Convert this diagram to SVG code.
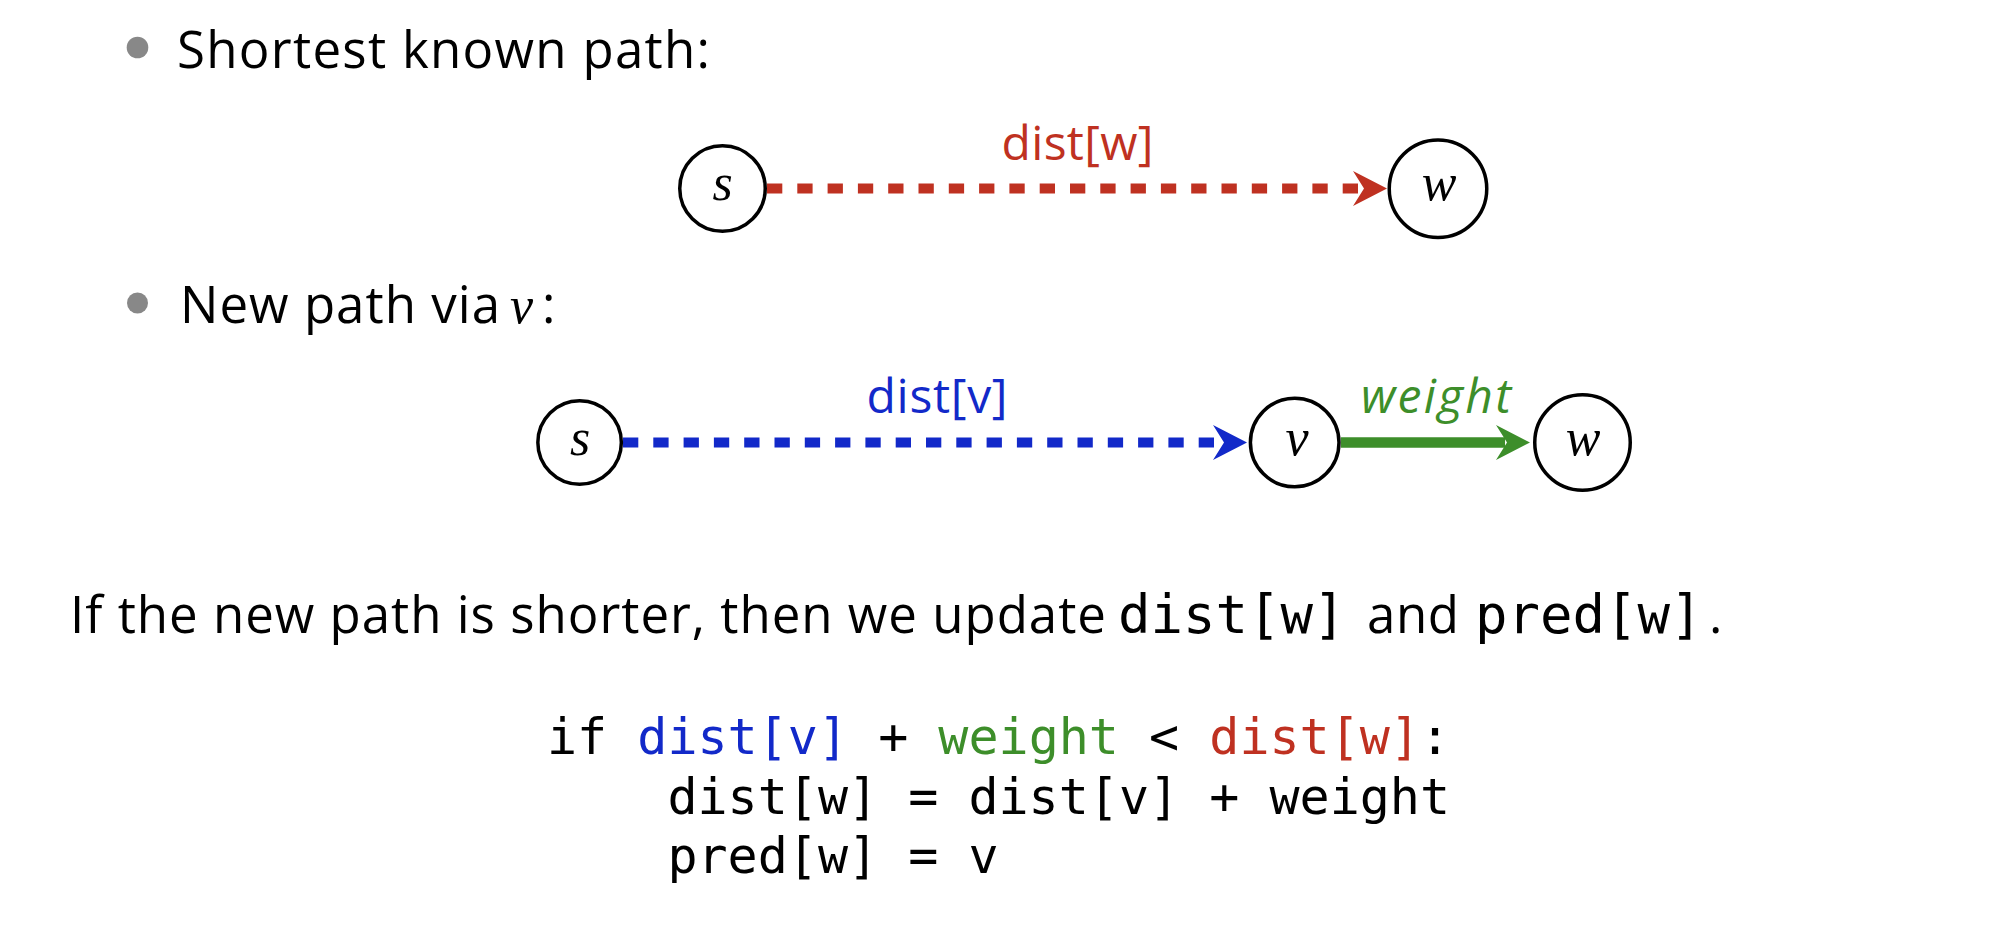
<svg xmlns="http://www.w3.org/2000/svg" width="2002" height="952" viewBox="0 0 2002 952">
<style>
.body{font-family:"Open Sans","Noto Sans","DejaVu Sans",sans-serif;font-size:51px;fill:#000}
.lbl{font-family:"Open Sans","Noto Sans","DejaVu Sans",sans-serif;font-size:48px}
.mono{font-family:"DejaVu Sans Mono","Liberation Mono",monospace}
.code{font-family:"DejaVu Sans Mono","Liberation Mono",monospace;font-size:50px;fill:#000}
.math{font-family:"Liberation Serif","DejaVu Serif",serif;font-style:italic;font-size:52px;fill:#000}
.node circle{fill:#fff;stroke:#000;stroke-width:3.5}
.bullet{fill:#888}
.red{fill:#BF3121}
.blue{fill:#1229C9}
.green{fill:#3D8E2A}
.dash{fill:none;stroke-width:10;stroke-dasharray:15.3 15}
</style>
<defs>
<marker id="ah-red" markerUnits="userSpaceOnUse" viewBox="-12 -20 40 40" markerWidth="40" markerHeight="40" refX="0" refY="0" orient="auto"><path d="M25,0 L-9,-17.5 L2,0 L-9,17.5 Z" fill="#BF3121"/></marker>
<marker id="ah-blue" markerUnits="userSpaceOnUse" viewBox="-12 -20 40 40" markerWidth="40" markerHeight="40" refX="0" refY="0" orient="auto"><path d="M25,0 L-9,-17.5 L2,0 L-9,17.5 Z" fill="#1229C9"/></marker>
<marker id="ah-green" markerUnits="userSpaceOnUse" viewBox="-12 -20 40 40" markerWidth="40" markerHeight="40" refX="0" refY="0" orient="auto"><path d="M25,0 L-9,-17.5 L2,0 L-9,17.5 Z" fill="#3D8E2A"/></marker>
</defs>
<rect width="2002" height="952" fill="#fff"/>

<g id="bullet1">
<circle class="bullet" cx="137.5" cy="47.5" r="10.8"/>
<text class="body" x="177" y="68" textLength="533">Shortest known path:</text>
</g>

<g id="connectors">
<path class="dash" stroke="#BF3121" d="M767,188.5 L1362,188.5" marker-end="url(#ah-red)"/>
<text class="lbl red" x="1077.5" y="160" text-anchor="middle" textLength="152">dist[w]</text>
<path class="dash" stroke="#1229C9" d="M623,442.5 L1222,442.5" marker-end="url(#ah-blue)"/>
<text class="lbl blue" x="937" y="413" text-anchor="middle" textLength="141">dist[v]</text>
<path fill="none" stroke="#3D8E2A" stroke-width="10.7" d="M1341,442.5 L1505,442.5" marker-end="url(#ah-green)"/>
<text class="lbl green" x="1436" y="413" text-anchor="middle" font-style="italic" textLength="150">weight</text>
</g>

<g id="node-s1" class="node">
<circle cx="722.5" cy="188.5" r="42.75"/>
<text class="math" x="722.5" y="200" text-anchor="middle">s</text>
</g>
<g id="node-w1" class="node">
<circle cx="1438" cy="188.8" r="48.75"/>
<text class="math" x="1439" y="200" text-anchor="middle">w</text>
</g>

<g id="bullet2">
<circle class="bullet" cx="137.5" cy="303" r="10.5"/>
<text class="body" x="180" y="323" textLength="320">New path via</text>
<text class="math" x="510" y="323">v</text>
<text class="body" x="542" y="323">:</text>
</g>

<g id="node-s2" class="node">
<circle cx="579.6" cy="442.5" r="41.75"/>
<text class="math" x="580" y="454.5" text-anchor="middle">s</text>
</g>
<g id="node-v" class="node">
<circle cx="1294.7" cy="442.5" r="44.3"/>
<text class="math" x="1297" y="454.5" text-anchor="middle">v</text>
</g>
<g id="node-w2" class="node">
<circle cx="1582.5" cy="442.5" r="47.75"/>
<text class="math" x="1583" y="454.5" text-anchor="middle">w</text>
</g>

<g id="sentence">
<text class="body" x="70" y="633" textLength="1036">If the new path is shorter, then we update</text>
<text class="mono" font-size="54" x="1118" y="633">dist[w]</text>
<text class="body" x="1367" y="633" textLength="92">and</text>
<text class="mono" font-size="54" x="1475" y="633">pred[w]</text>
<text class="body" x="1709" y="633">.</text>
</g>

<g id="code">
<text class="code" x="547" y="754">if <tspan class="blue">dist[v]</tspan> + <tspan class="green">weight</tspan> &lt; <tspan class="red">dist[w]</tspan>:</text>
<text class="code" x="667.4" y="813.5">dist[w] = dist[v] + weight</text>
<text class="code" x="667.4" y="873">pred[w] = v</text>
</g>
</svg>
